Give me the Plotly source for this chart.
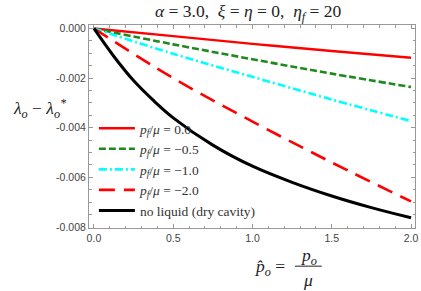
import plotly.graph_objects as go

# ---- data ----
x_lin = [0.0, 0.5, 1.0, 1.5, 2.0]
y_pf_0 = [0.0, -0.00031, -0.00062, -0.00091, -0.00118]
y_pf_m05 = [0.0, -0.00064, -0.00124, -0.00182, -0.00236]
y_pf_m10 = [0.0, -0.00102, -0.00195, -0.00286, -0.00373]
y_pf_m20 = [0.0, -0.00200, -0.00375, -0.00540, -0.00697]

x_dry = [0.0, 0.125, 0.25, 0.375, 0.5, 0.75, 1.0, 1.25, 1.5, 1.75, 2.0]
y_dry = [0.0, -0.00112, -0.00210, -0.00290, -0.00360, -0.00470, -0.00555,
         -0.00620, -0.00675, -0.00722, -0.00763]

names = ["<i>p<sub>f</sub></i>/<i>μ</i> = 0.0",
         "<i>p<sub>f</sub></i>/<i>μ</i> = −0.5",
         "<i>p<sub>f</sub></i>/<i>μ</i> = −1.0",
         "<i>p<sub>f</sub></i>/<i>μ</i> = −2.0",
         "no liquid (dry cavity)"]

x_tickvals = [0.0, 0.5, 1.0, 1.5, 2.0]
x_ticktext = ["0.0", "0.5", "1.0", "1.5", "2.0"]
y_tickvals = [0.0, -0.002, -0.004, -0.006, -0.008]
y_ticktext = ["0.000", "-0.002", "-0.004", "-0.006", "-0.008"]

fig = go.Figure()
styles = [
    (x_lin, y_pf_0, dict(color="#ff0000", width=2.4, dash="solid")),
    (x_lin, y_pf_m05, dict(color="#1e8a1e", width=2.6, dash="7px,3px")),
    (x_lin, y_pf_m10, dict(color="#00ffff", width=2.6, dash="8px,3px,2px,3px")),
    (x_lin, y_pf_m20, dict(color="#ff0000", width=2.6, dash="16px,9px")),
    (x_dry, y_dry, dict(color="#000000", width=3, dash="solid")),
]
for (xs, ys, ln), nm in zip(styles, names):
    fig.add_trace(go.Scatter(x=xs, y=ys, mode="lines", name=nm,
                             line=dict(shape="spline", **ln)))

axis_common = dict(
    showline=True, mirror="allticks", linecolor="#999999", linewidth=1,
    ticks="inside", ticklen=4, tickcolor="#999999", showgrid=False,
    zeroline=False, ticklabeloverflow="allow",
    tickfont=dict(family="Liberation Sans", size=10.5, color="#444444"),
)

TXT = dict(family="Liberation Serif", size=17.5, color="#222222")

fig.update_layout(
    width=421, height=291,
    margin=dict(l=89, r=3, t=25, b=63),
    paper_bgcolor="white", plot_bgcolor="white",
    showlegend=True,
    legend=dict(x=0.015, y=0.01, xanchor="left", yanchor="bottom",
                bgcolor="rgba(255,255,255,0)", tracegroupgap=0,
                font=dict(family="Liberation Serif", size=13.5, color="#333333"),
                itemwidth=36),
    xaxis=dict(range=[-0.031, 2.025], tickvals=x_tickvals, ticktext=x_ticktext,
               minor=dict(ticks="inside", ticklen=2.5, tickcolor="#999999", dtick=0.1),
               **axis_common),
    yaxis=dict(range=[-0.00804, 0.00014], tickvals=y_tickvals, ticktext=y_ticktext,
               minor=dict(ticks="inside", ticklen=2.5, tickcolor="#999999", dtick=0.0005),
               **axis_common),
    annotations=[
        dict(text="<i>α</i> = 3.0,  <i>ξ</i> = <i>η</i> = 0,  <i>η<sub>f</sub></i> = 20",
             xref="paper", yref="paper", x=0.49, y=1.0, yshift=13, showarrow=False,
             xanchor="center", yanchor="middle", font=TXT),
        dict(text="<i>λ<sub>o</sub></i> − <i>λ<sub>o</sub><sup>*</sup></i>",
             xref="paper", yref="paper", x=-0.24, y=0.59, showarrow=False,
             xanchor="left", yanchor="middle", font=TXT),
        dict(text="<i>p̂<sub>o</sub></i> =",
             xref="paper", yref="paper", x=0.608, y=-0.197, showarrow=False,
             xanchor="right", yanchor="middle", font=TXT),
        dict(text="<i>p<sub>o</sub></i>",
             xref="paper", yref="paper", x=0.673, y=-0.14, showarrow=False,
             xanchor="center", yanchor="middle", font=TXT),
        dict(text="<i>μ</i>",
             xref="paper", yref="paper", x=0.673, y=-0.255, showarrow=False,
             xanchor="center", yanchor="middle", font=TXT),
    ],
    shapes=[dict(type="line", xref="paper", yref="paper",
                 x0=0.632, x1=0.714, y0=-0.188, y1=-0.188,
                 line=dict(color="#222222", width=1))],
)

fig.write_html("out.html",
               config={"displayModeBar": False},
               post_script="document.body.style.margin='0';"
                           "document.body.style.overflow='hidden';")
